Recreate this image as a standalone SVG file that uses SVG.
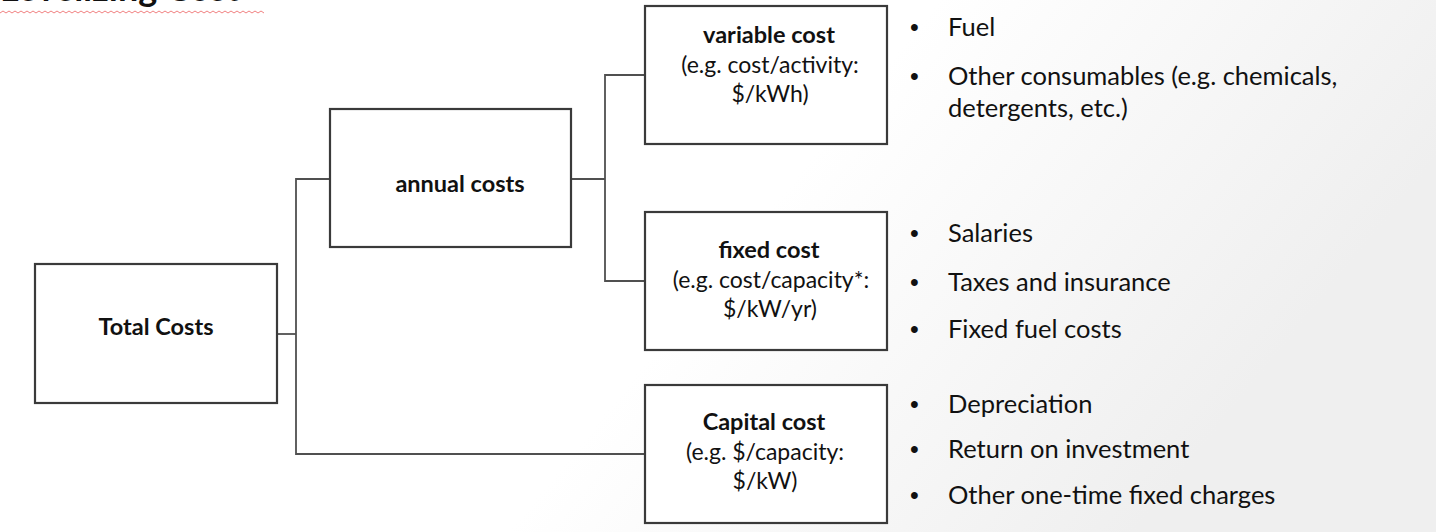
<svg xmlns="http://www.w3.org/2000/svg" width="1436" height="532" viewBox="0 0 1436 532">
<defs>
<linearGradient id="bg" x1="0" y1="0" x2="1" y2="0.3">
<stop offset="0" stop-color="#ffffff"/>
<stop offset="0.6" stop-color="#ffffff"/>
<stop offset="1" stop-color="#efefef"/>
</linearGradient>
<pattern id="wave" x="0" y="10" width="6" height="4" patternUnits="userSpaceOnUse">
<path d="M0 3 L3 1 L6 3" fill="none" stroke="#f08080" stroke-width="1"/>
</pattern>
</defs>
<style>
.box{fill:#ffffff;stroke:#3a3a3a;stroke-width:2.2}
.conn{fill:none;stroke:#505050;stroke-width:1.8}
.t{font-family:Lato,"Open Sans","Liberation Sans",sans-serif;fill:#111;text-anchor:middle}
.tb{font-weight:bold;font-size:23.5px}
.ts{font-size:23px}
.bl{font-family:Lato,"Open Sans","Liberation Sans",sans-serif;fill:#111;font-size:25.5px}
.dot{font-family:"Liberation Sans",sans-serif;fill:#111;font-size:25px}
</style>
<rect x="0" y="0" width="1436" height="532" fill="url(#bg)"/>
<g id="title">
<text x="0" y="1" font-family="Lato,'Liberation Sans',sans-serif" font-weight="bold" font-size="36" fill="#111">Levelizing Cost</text>
<rect x="0" y="10" width="264" height="4" fill="url(#wave)"/>
</g>
<g id="connectors">
<path class="conn" d="M277 334 H296"/>
<path class="conn" d="M330 179 H296 V454 H645"/>
<path class="conn" d="M571 179 H605"/>
<path class="conn" d="M645 75 H605 V281 H645"/>
</g>
<g id="total">
<rect class="box" x="35" y="264" width="242" height="139"/>
<text class="t tb" x="156" y="335">Total Costs</text>
</g>
<g id="annual">
<rect class="box" x="330" y="109" width="241" height="138"/>
<text class="t tb" x="460" y="192">annual costs</text>
</g>
<g id="variable">
<rect class="box" x="645" y="6" width="242" height="138"/>
<text class="t tb" x="769" y="43">variable cost</text>
<text class="t ts" x="770" y="73">(e.g. cost/activity:</text>
<text class="t ts" x="770" y="102">$/kWh)</text>
</g>
<g id="fixed">
<rect class="box" x="645" y="212" width="242" height="138"/>
<text class="t tb" x="769" y="258">fixed cost</text>
<text class="t ts" x="771" y="288">(e.g. cost/capacity*:</text>
<text class="t ts" x="770" y="317">$/kW/yr)</text>
</g>
<g id="capital">
<rect class="box" x="645" y="385" width="242" height="138"/>
<text class="t tb" x="764" y="430">Capital cost</text>
<text class="t ts" x="765" y="460">(e.g. $/capacity:</text>
<text class="t ts" x="765" y="489">$/kW)</text>
</g>
<g id="variable-items">
<text class="dot" x="910" y="36">•</text><text class="bl" x="948" y="36">Fuel</text>
<text class="dot" x="910" y="85">•</text><text class="bl" x="948" y="85">Other consumables (e.g. chemicals,</text>
<text class="bl" x="948" y="117">detergents, etc.)</text>
</g>
<g id="fixed-items">
<text class="dot" x="910" y="242">•</text><text class="bl" x="948" y="242">Salaries</text>
<text class="dot" x="910" y="291">•</text><text class="bl" x="948" y="291">Taxes and insurance</text>
<text class="dot" x="910" y="338">•</text><text class="bl" x="948" y="338">Fixed fuel costs</text>
</g>
<g id="capital-items">
<text class="dot" x="910" y="413">•</text><text class="bl" x="948" y="413">Depreciation</text>
<text class="dot" x="910" y="458">•</text><text class="bl" x="948" y="458">Return on investment</text>
<text class="dot" x="910" y="504">•</text><text class="bl" x="948" y="504">Other one-time fixed charges</text>
</g>
</svg>
